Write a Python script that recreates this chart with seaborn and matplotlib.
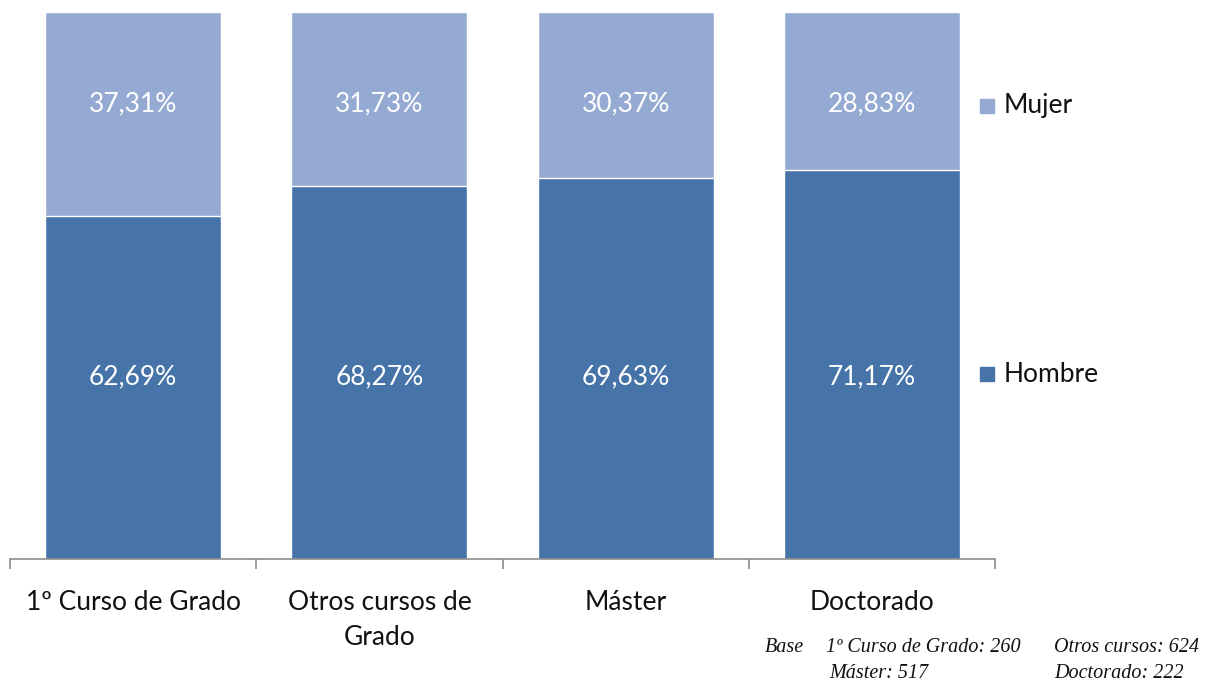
import matplotlib
matplotlib.use("Agg")
import matplotlib.pyplot as plt
from matplotlib.patches import Rectangle
import seaborn as sns
import pandas as pd

# -----------------------------
# DATA
# -----------------------------
categories = ["1º Curso de Grado", "Otros cursos de\nGrado", "Máster", "Doctorado"]
hombre = [62.69, 68.27, 69.63, 71.17]
mujer = [37.31, 31.73, 30.37, 28.83]

c_hombre = "#4674A8"
c_mujer = "#95AAD2"

df = pd.DataFrame({"cat": categories, "Hombre": hombre, "Mujer": mujer})
df["total"] = df["Hombre"] + df["Mujer"]

# -----------------------------
# PLOT
# -----------------------------
sns.set_style("white")
plt.rcParams["font.family"] = ["Lato", "DejaVu Sans"]

fig = plt.figure(figsize=(12.24, 6.84), dpi=100)
ax = fig.add_axes([10 / 1224, 125 / 684, 985 / 1224, 547 / 684])

sns.barplot(data=df, x="cat", y="total", color=c_mujer, width=0.715,
            saturation=1, ax=ax)
sns.barplot(data=df, x="cat", y="Hombre", color=c_hombre, width=0.715,
            saturation=1, ax=ax)

ax.set_ylim(0, 100)
ax.set_xlim(-0.5, 3.5)
ax.set_xlabel("")
ax.set_ylabel("")
ax.set_yticks([])

for s in ["top", "right", "left"]:
    ax.spines[s].set_visible(False)
ax.spines["bottom"].set_color("#8c8c8c")
ax.spines["bottom"].set_linewidth(1.2)

ax.set_xticks(range(len(categories)))
ax.set_xticklabels(categories, fontsize=19, color="#111111", linespacing=1.5)
ax.tick_params(axis="x", which="major", length=0, pad=22)
ax.set_xticks([-0.5, 0.5, 1.5, 2.5, 3.5], minor=True)
ax.tick_params(axis="x", which="minor", length=7, width=1.2, color="#8c8c8c",
               direction="out", bottom=True)

# value labels (same height in every column, as in the original)
for i, (h, m) in enumerate(zip(hombre, mujer)):
    ax.text(i, 33.3, f"{h:.2f}%".replace(".", ","), ha="center", va="center",
            color="white", fontsize=19)
    ax.text(i, 83.3, f"{m:.2f}%".replace(".", ","), ha="center", va="center",
            color="white", fontsize=19)

# legend
for label, col, ypix in [("Mujer", c_mujer, 106), ("Hombre", c_hombre, 374)]:
    yf = 1 - ypix / 684
    fig.patches.append(Rectangle((980 / 1224, yf - 7 / 684), 14 / 1224, 14 / 684,
                                 transform=fig.transFigure, color=col))
    fig.text(1004 / 1224, yf, label, fontsize=19, va="center", ha="left",
             color="#111111")

# footnote
foot = dict(fontsize=14.5, family="Liberation Serif", style="italic",
            color="#111111", va="center", ha="left")
fig.text(765 / 1224, 1 - 648 / 684, "Base", **foot)
fig.text(826 / 1224, 1 - 648 / 684, "1º Curso de Grado: 260", **foot)
fig.text(1054 / 1224, 1 - 648 / 684, "Otros cursos: 624", **foot)
fig.text(829 / 1224, 1 - 673 / 684, "Máster: 517", **foot)
fig.text(1054 / 1224, 1 - 673 / 684, "Doctorado: 222", **foot)

fig.savefig("out.png", dpi=100)
